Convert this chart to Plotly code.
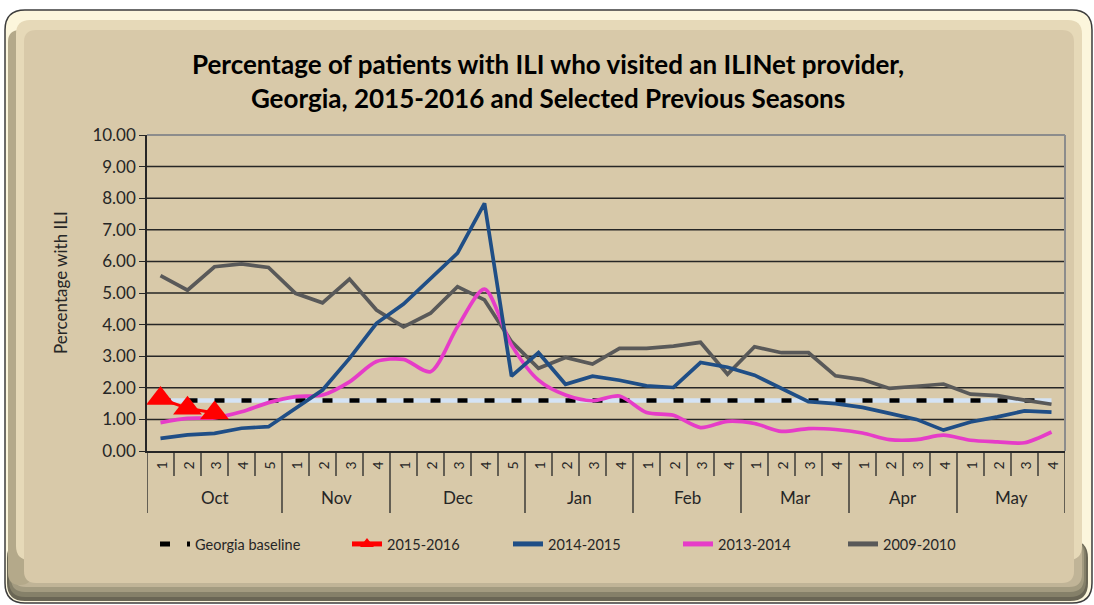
import plotly.graph_objects as go

# ---------------- data ----------------
month_labels = ["Oct", "Nov", "Dec", "Jan", "Feb", "Mar", "Apr", "May"]
weeks_per_month = [5, 4, 5, 4, 4, 4, 4, 4]
week_labels = ["1", "2", "3", "4", "5",
               "1", "2", "3", "4",
               "1", "2", "3", "4", "5",
               "1", "2", "3", "4",
               "1", "2", "3", "4",
               "1", "2", "3", "4",
               "1", "2", "3", "4",
               "1", "2", "3", "4"]
y_tick_values = [0, 1, 2, 3, 4, 5, 6, 7, 8, 9, 10]

baseline_value = 1.6
s2015_16 = [1.66, 1.35, 1.20]
s2014_15 = [0.40, 0.51, 0.56, 0.72, 0.77, 1.35, 1.93, 2.93, 4.04, 4.65, 5.46, 6.26, 7.84, 2.37,
            3.11, 2.11, 2.37, 2.24, 2.06, 2.01, 2.80, 2.65, 2.40, 1.98, 1.56, 1.50, 1.38, 1.19,
            1.00, 0.66, 0.92, 1.08, 1.27, 1.23]
s2013_14 = [0.90, 1.03, 1.05, 1.24, 1.53, 1.72, 1.77, 2.19, 2.83, 2.90, 2.51, 3.93, 5.12, 3.35,
            2.24, 1.77, 1.59, 1.74, 1.22, 1.13, 0.74, 0.94, 0.87, 0.62, 0.71, 0.68, 0.57, 0.36,
            0.36, 0.50, 0.34, 0.29, 0.26, 0.60]
s2009_10 = [5.55, 5.09, 5.83, 5.92, 5.81, 4.99, 4.69, 5.44, 4.46, 3.93, 4.36, 5.20, 4.78, 3.46,
            2.62, 2.96, 2.75, 3.25, 3.25, 3.32, 3.44, 2.43, 3.30, 3.11, 3.11, 2.38, 2.26, 1.98,
            2.05, 2.12, 1.80, 1.75, 1.61, 1.48]

# ---------------- layout geometry ----------------
W, H = 1094, 605
L, R, T, B = 147, 1065, 135, 451
FONT = "Lato"
TXT = "#262626"


def px(x):
    return (x - L) / (R - L)


def py(y):
    return (B - y) / (B - T)


def rrect(x0, y0, x1, y1, r):
    p = lambda x, y: f"{px(x):.5f},{py(y):.5f}"
    return (f"M {p(x0 + r, y0)} L {p(x1 - r, y0)} Q {p(x1, y0)} {p(x1, y0 + r)} "
            f"L {p(x1, y1 - r)} Q {p(x1, y1)} {p(x1 - r, y1)} L {p(x0 + r, y1)} "
            f"Q {p(x0, y1)} {p(x0, y1 - r)} L {p(x0, y0 + r)} Q {p(x0, y0)} {p(x0 + r, y0)} Z")


n = len(week_labels)
xs = list(range(n))

fig = go.Figure()

# baseline (light underlay + black dashes)
fig.add_trace(go.Scatter(x=xs, y=[baseline_value] * n, mode="lines",
                         line=dict(color="#d4e3f5", width=4.5), showlegend=False,
                         hoverinfo="skip"))
fig.add_trace(go.Scatter(x=xs, y=[baseline_value] * n, mode="lines", name="Georgia baseline",
                         line=dict(color="#000000", width=4.5, dash="10px,17px"),
                         legend="legend"))
fig.add_trace(go.Scatter(x=xs, y=s2009_10, mode="lines", name="2009-2010",
                         line=dict(color="#595959", width=3.7), legend="legend5"))
fig.add_trace(go.Scatter(x=xs, y=s2013_14, mode="lines", name="2013-2014",
                         line=dict(color="#e63cc8", width=3.7, shape="spline", smoothing=0.8),
                         legend="legend4"))
fig.add_trace(go.Scatter(x=xs, y=s2014_15, mode="lines", name="2014-2015",
                         line=dict(color="#1f4e86", width=3.7), legend="legend3"))
fig.add_trace(go.Scatter(x=xs[:len(s2015_16)], y=s2015_16, mode="lines+markers", name="2015-2016",
                         line=dict(color="#ff0000", width=3),
                         marker=dict(symbol="triangle-up", size=25, color="#ff0000"),
                         legend="legend2"))

shapes = []
# chart panel with bevel
shapes.append(dict(type="path", path=rrect(5, 10, 1092, 603, 20), xref="paper", yref="paper",
                   fillcolor="#fcf6dc", line=dict(color="#3c3c3c", width=1.5), layer="below"))
shapes.append(dict(type="path", path=rrect(7, 540, 1088, 601, 18), xref="paper", yref="paper",
                   fillcolor="#6a6655", line=dict(width=0), layer="below"))
shapes.append(dict(type="path", path=rrect(9, 540, 1086, 597, 16), xref="paper", yref="paper",
                   fillcolor="#858069", line=dict(width=0), layer="below"))
shapes.append(dict(type="path", path=rrect(11, 540, 1084, 592, 14), xref="paper", yref="paper",
                   fillcolor="#a39b80", line=dict(width=0), layer="below"))
shapes.append(dict(type="path", path=rrect(13, 540, 1082, 587, 13), xref="paper", yref="paper",
                   fillcolor="#c0b497", line=dict(width=0), layer="below"))
shapes.append(dict(type="path", path=rrect(8, 30, 32, 585, 12), xref="paper", yref="paper",
                   fillcolor="#b4a98a", line=dict(width=0), layer="below"))
shapes.append(dict(type="path", path=rrect(16, 20, 1082, 560, 14), xref="paper", yref="paper",
                   fillcolor="#e6d9b8", line=dict(width=0), layer="below"))
shapes.append(dict(type="path", path=rrect(24, 30, 1074, 583, 12), xref="paper", yref="paper",
                   fillcolor="#d8c9a9", line=dict(width=0), layer="below"))

# horizontal gridlines
for v in y_tick_values[1:-1]:
    shapes.append(dict(type="line", xref="paper", yref="y", x0=0, x1=1, y0=v, y1=v,
                       line=dict(color="#262626", width=1.5), layer="below"))
# gray frame top + right
shapes.append(dict(type="line", xref="paper", yref="paper", x0=0, x1=1, y0=1, y1=1,
                   line=dict(color="#8c8c8c", width=2), layer="below"))
shapes.append(dict(type="line", xref="paper", yref="paper", x0=1, x1=1, y0=0, y1=1,
                   line=dict(color="#8c8c8c", width=2), layer="below"))

# category axis ticks: week boundaries and month boundaries
month_starts = []
acc = 0
for m in weeks_per_month:
    month_starts.append(acc)
    acc += m
month_bounds = set(month_starts + [n])
for k in range(n + 1):
    yb = py(513) if k in month_bounds else py(476)
    shapes.append(dict(type="line", xref="x", yref="paper", x0=k - 0.5, x1=k - 0.5, y0=0, y1=yb,
                       line=dict(color="#262626", width=1.3)))

annotations = []
# week labels
for i, w in enumerate(week_labels):
    annotations.append(dict(x=i, y=py(466), xref="x", yref="paper", text=w, showarrow=False,
                            textangle=-90, font=dict(family=FONT, size=14, color=TXT),
                            xanchor="center", yanchor="middle"))
# month labels
for m, s, c in zip(month_labels, month_starts, weeks_per_month):
    annotations.append(dict(x=s + (c - 1) / 2, y=py(498), xref="x", yref="paper", text=m,
                            showarrow=False, font=dict(family=FONT, size=17, color=TXT),
                            xanchor="center", yanchor="middle"))
# title
annotations.append(dict(x=px(548), y=py(81), xref="paper", yref="paper",
                        text="<b>Percentage of patients with ILI who visited an ILINet provider,<br>"
                             "Georgia, 2015-2016 and Selected Previous Seasons</b>",
                        showarrow=False, font=dict(family=FONT, size=26, color="#000000"),
                        xanchor="center", yanchor="middle"))
# y-axis title
annotations.append(dict(x=px(60), y=py(283), xref="paper", yref="paper",
                        text="Percentage with ILI", textangle=-90, showarrow=False,
                        font=dict(family=FONT, size=17, color=TXT),
                        xanchor="center", yanchor="middle"))

legend_common = dict(orientation="h", xanchor="left", yanchor="middle", y=py(544),
                     bgcolor="rgba(0,0,0,0)", font=dict(family=FONT, size=14.5, color=TXT),
                     itemwidth=30, itemsizing="constant")

fig.update_layout(
    width=W, height=H,
    margin=dict(l=L, r=W - R, t=T, b=H - B),
    paper_bgcolor="white",
    plot_bgcolor="rgba(0,0,0,0)",
    shapes=shapes,
    annotations=annotations,
    legend=dict(x=px(155), **legend_common),
    legend2=dict(x=px(347), **legend_common),
    legend3=dict(x=px(508), **legend_common),
    legend4=dict(x=px(678), **legend_common),
    legend5=dict(x=px(843), **legend_common),
    xaxis=dict(range=[-0.5, n - 0.5], showticklabels=False, showgrid=False, zeroline=False,
               showline=True, linecolor="#262626", linewidth=1.5, ticks=""),
    yaxis=dict(range=[0, 10], tickvals=y_tick_values, tickformat=".2f", showgrid=False,
               zeroline=False, showline=True, linecolor="#262626", linewidth=1.5,
               ticks="outside", ticklen=6, tickcolor="#262626",
               tickfont=dict(family=FONT, size=17, color=TXT)),
    font=dict(family=FONT),
)

fig.write_html("out.html", config={"displayModeBar": False},
               post_script="document.body.style.margin='0';document.body.style.overflow='hidden';")
